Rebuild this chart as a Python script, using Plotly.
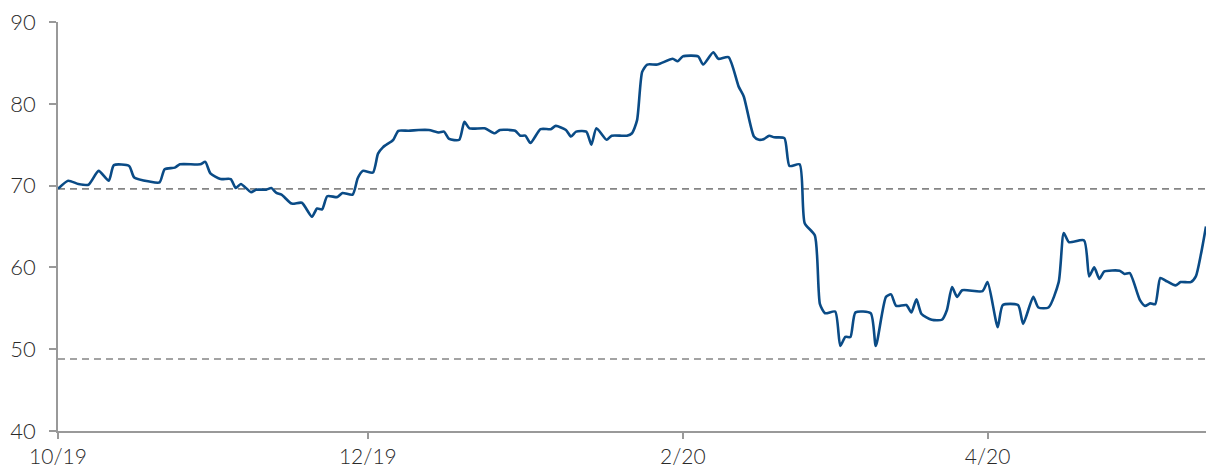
import plotly.graph_objects as go

dates = [
    "2019-10-01", "2019-10-03", "2019-10-05", "2019-10-07", "2019-10-09", "2019-10-11",
    "2019-10-12", "2019-10-15", "2019-10-16", "2019-10-19", "2019-10-21", "2019-10-22",
    "2019-10-24", "2019-10-25", "2019-10-29", "2019-10-30", "2019-10-31", "2019-11-02",
    "2019-11-04", "2019-11-05", "2019-11-06", "2019-11-08", "2019-11-09", "2019-11-11",
    "2019-11-12", "2019-11-13", "2019-11-14", "2019-11-16", "2019-11-18", "2019-11-20",
    "2019-11-21", "2019-11-22", "2019-11-23", "2019-11-25", "2019-11-26", "2019-11-28",
    "2019-11-29", "2019-11-30", "2019-12-02", "2019-12-03", "2019-12-04", "2019-12-06",
    "2019-12-07", "2019-12-09", "2019-12-11", "2019-12-13", "2019-12-15", "2019-12-16",
    "2019-12-17", "2019-12-19", "2019-12-20", "2019-12-21", "2019-12-24", "2019-12-26",
    "2019-12-27", "2019-12-30", "2019-12-31", "2020-01-01", "2020-01-02", "2020-01-04",
    "2020-01-06", "2020-01-07", "2020-01-09", "2020-01-10", "2020-01-11", "2020-01-13",
    "2020-01-14", "2020-01-15", "2020-01-17", "2020-01-18", "2020-01-20", "2020-01-21",
    "2020-01-22", "2020-01-23", "2020-01-24", "2020-01-25", "2020-01-27", "2020-01-30",
    "2020-01-31", "2020-02-01", "2020-02-04", "2020-02-05", "2020-02-07", "2020-02-08",
    "2020-02-10", "2020-02-12", "2020-02-13", "2020-02-15", "2020-02-16", "2020-02-17",
    "2020-02-18", "2020-02-19", "2020-02-21", "2020-02-22", "2020-02-24", "2020-02-25",
    "2020-02-27", "2020-02-28", "2020-02-29", "2020-03-02", "2020-03-03", "2020-03-04",
    "2020-03-05", "2020-03-06", "2020-03-09", "2020-03-10", "2020-03-12", "2020-03-13",
    "2020-03-14", "2020-03-16", "2020-03-17", "2020-03-18", "2020-03-19", "2020-03-21",
    "2020-03-23", "2020-03-24", "2020-03-25", "2020-03-26", "2020-03-27", "2020-03-31",
    "2020-04-01", "2020-04-03", "2020-04-04", "2020-04-07", "2020-04-08", "2020-04-10",
    "2020-04-11", "2020-04-13", "2020-04-15", "2020-04-16", "2020-04-17", "2020-04-20",
    "2020-04-21", "2020-04-22", "2020-04-23", "2020-04-24", "2020-04-27", "2020-04-28",
    "2020-04-29", "2020-05-01", "2020-05-02", "2020-05-03", "2020-05-04", "2020-05-05",
    "2020-05-06", "2020-05-08", "2020-05-09", "2020-05-11", "2020-05-12", "2020-05-13",
    "2020-05-14",
]

values = [
    69.6, 70.6, 70.2, 70.1, 71.8, 70.6,
    72.5, 72.4, 71.0, 70.5, 70.4, 72.0,
    72.2, 72.6, 72.6, 72.9, 71.5, 70.8,
    70.8, 69.7, 70.2, 69.2, 69.5, 69.5,
    69.7, 69.1, 68.9, 67.8, 67.9, 66.2,
    67.2, 67.1, 68.7, 68.6, 69.1, 68.9,
    70.9, 71.8, 71.6, 73.9, 74.7, 75.6,
    76.7, 76.7, 76.8, 76.8, 76.5, 76.6,
    75.7, 75.6, 77.8, 77.0, 77.0, 76.4,
    76.8, 76.7, 76.1, 76.1, 75.2, 76.9,
    76.9, 77.3, 76.8, 76.0, 76.6, 76.6,
    75.0, 77.0, 75.6, 76.1, 76.1, 76.1,
    76.4, 78.0, 83.9, 84.8, 84.8, 85.5,
    85.2, 85.8, 85.8, 84.8, 86.3, 85.5,
    85.7, 82.1, 80.9, 76.0, 75.6, 75.7,
    76.1, 75.9, 75.8, 72.4, 72.6, 65.4,
    63.9, 55.5, 54.4, 54.6, 50.4, 51.5,
    51.5, 54.5, 54.4, 50.4, 56.4, 56.7,
    55.3, 55.4, 54.5, 56.1, 54.3, 53.6,
    53.6, 54.8, 57.6, 56.4, 57.2, 57.1,
    58.2, 52.7, 55.4, 55.4, 53.1, 56.4,
    55.1, 55.1, 58.2, 64.2, 63.1, 63.3,
    58.9, 60.0, 58.6, 59.5, 59.6, 59.2,
    59.3, 56.0, 55.3, 55.6, 55.5, 58.7,
    58.4, 57.8, 58.2, 58.2, 58.9, 61.6,
    65.0,
]

ref_levels = [69.6, 48.8]
x_tickvals = ["2019-10-01", "2019-12-01", "2020-02-01", "2020-04-01"]
x_ticktext = ["10/19", "12/19", "2/20", "4/20"]
y_tickvals = [40, 50, 60, 70, 80, 90]
x_range = ["2019-10-01", "2020-05-14"]
y_range = [40, 90]

fig = go.Figure()
fig.add_trace(go.Scatter(
    x=dates, y=values, mode="lines",
    line=dict(color="#0a4b86", width=2.6, shape="spline", smoothing=0.6),
    hoverinfo="x+y", showlegend=False,
))

for lv in ref_levels:
    fig.add_shape(type="line", xref="paper", x0=0, x1=1, yref="y", y0=lv, y1=lv,
                  line=dict(color="#858585", width=1.6, dash="7px,5px"), layer="below")

font = dict(family="Lato, 'Open Sans', sans-serif", size=22, color="#2a2a2a", weight=300)
xfont = dict(family="Lato, 'Open Sans', sans-serif", size=21, color="#2a2a2a", weight=300)

fig.update_layout(
    width=1206, height=468,
    margin=dict(l=58, r=0, t=22, b=37),
    paper_bgcolor="white", plot_bgcolor="white",
    font=font,
    xaxis=dict(
        type="date", range=x_range, tickmode="array", tickvals=x_tickvals, ticktext=x_ticktext,
        showgrid=False, zeroline=False, showline=True, linecolor="#999999", linewidth=1.5,
        ticks="outside", ticklen=6, tickwidth=1.5, tickcolor="#999999", tickfont=xfont,
        ticklabelstandoff=0, automargin=False,
    ),
    yaxis=dict(
        range=y_range, tickmode="array", tickvals=y_tickvals,
        showgrid=False, zeroline=False, showline=True, linecolor="#999999", linewidth=1.5,
        ticks="outside", ticklen=7, tickwidth=1.5, tickcolor="#999999", tickfont=font,
        ticklabelstandoff=9, automargin=False,
    ),
)

fig.write_html(
    "out.html",
    config={"displayModeBar": False},
    post_script="document.body.style.margin='0';document.body.style.padding='0';document.body.style.overflow='hidden';",
)
